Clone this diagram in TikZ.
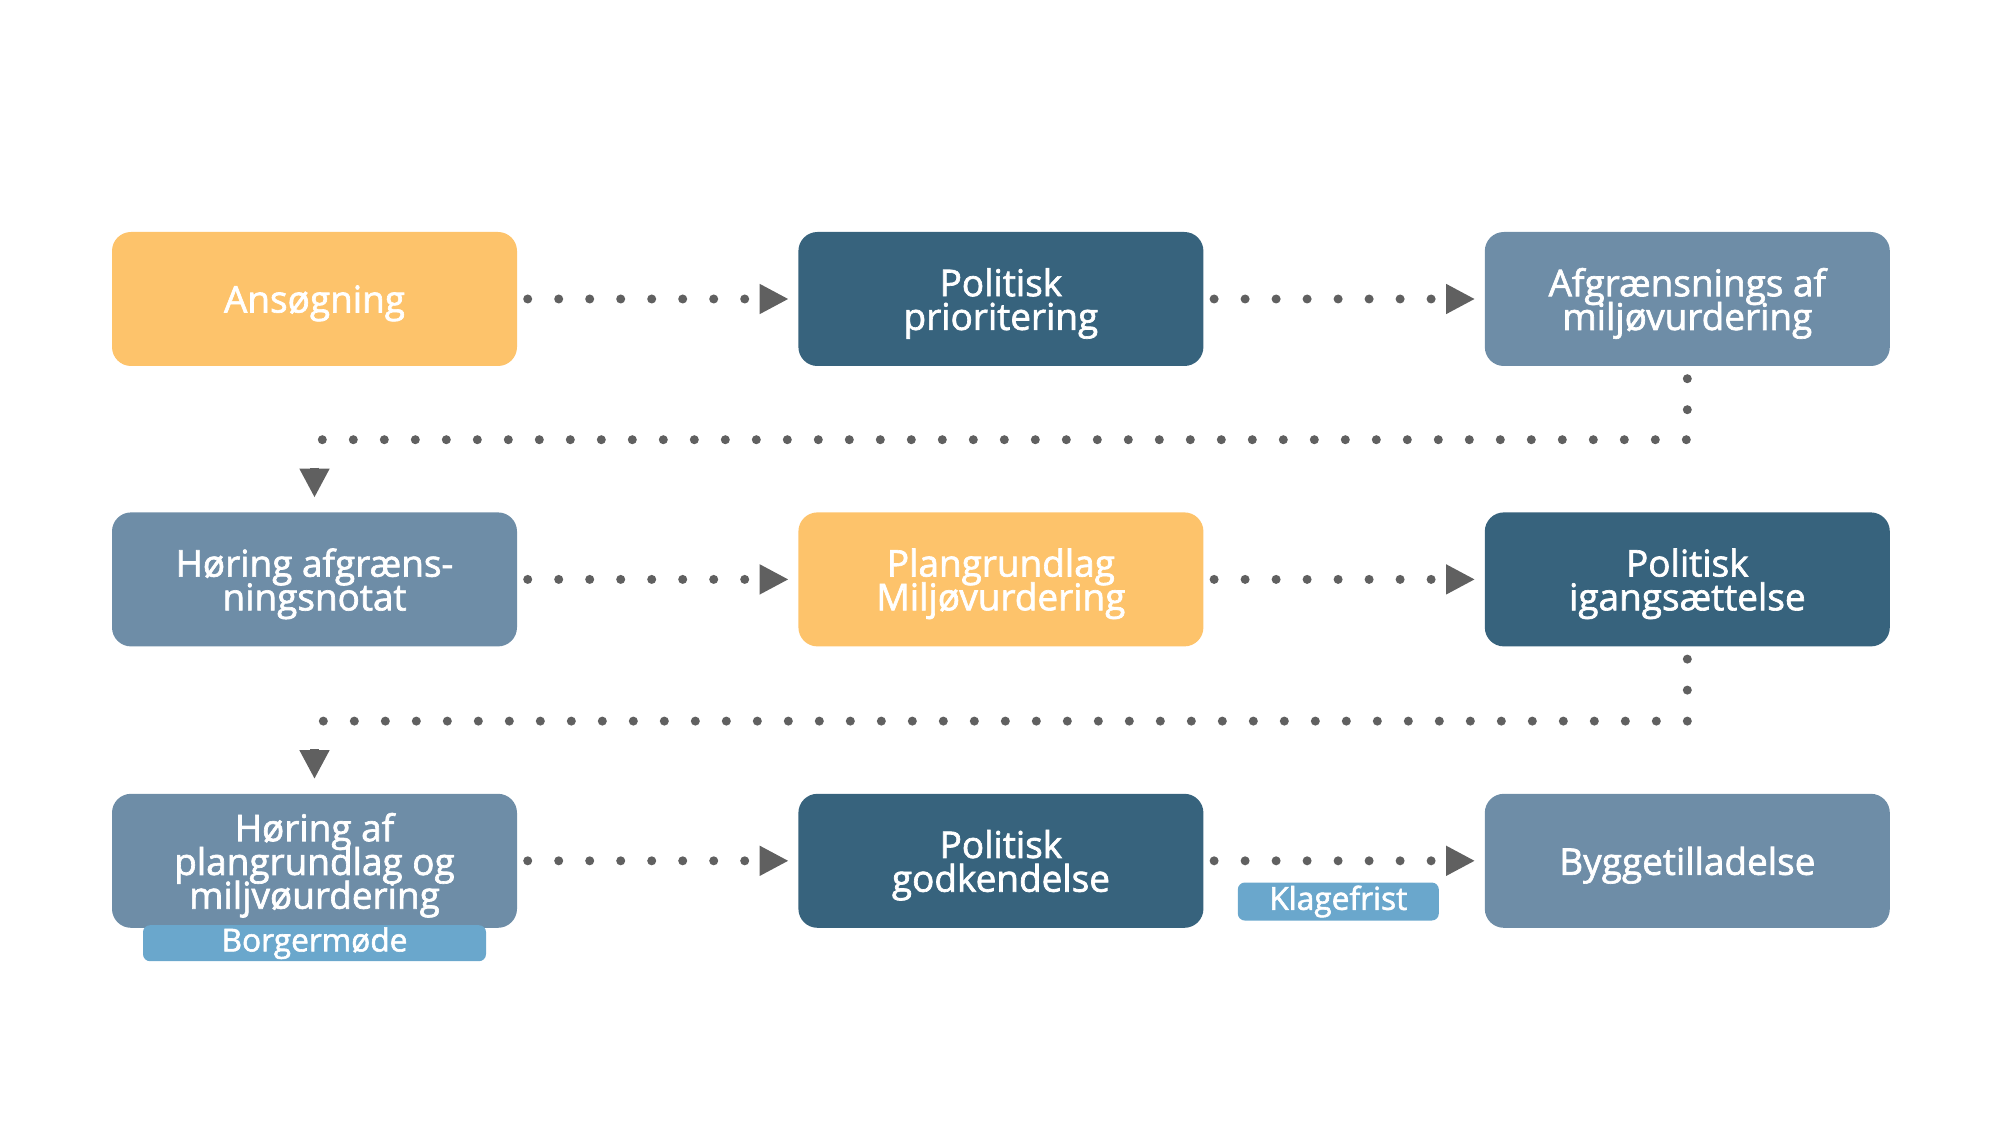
\documentclass[tikz,border=0pt]{standalone}
\usepackage{fontspec}
\setmainfont{Open Sans}
\newfontfamily\planfont{Open Sans}[FakeBold=1.8]
\newcommand\planboxfont{\planfont\fontsize{10.5}{9.6}\selectfont\lineskiplimit=-10pt\relax}
\usepackage{tikz}
\usetikzlibrary{arrows.meta}
\usetikzlibrary{positioning}
\definecolor{planorange}{HTML}{FDC36B}
\definecolor{plandark}{HTML}{37637D}
\definecolor{plangrey}{HTML}{6E8DA7}
\definecolor{planlight}{HTML}{6AA7CC}
\definecolor{dotgrey}{HTML}{606060}
\tikzstyle{stepbox} = [
    rectangle, rounded corners=0.19cm, minimum width=4.05cm, minimum height=1.34cm,
    inner sep=2pt, text depth=0pt, align=center, text=white, font=\planboxfont]
\tikzstyle{tag} = [
    rectangle, rounded corners=0.07cm, fill=planlight, text=white, inner sep=0pt,
    font=\planfont\fontsize{9}{9}\selectfont]
\tikzstyle{flow} = [dotgrey, line width=0.09cm, line cap=round, dash pattern=on 0pt off 0.31cm]
\tikzstyle{arrow} = [flow, -{Triangle[length=0.29cm,width=0.28cm]}, shorten <=0.1cm, shorten >=0.09cm]
\tikzstyle{tip} = [dotgrey, line width=0.09cm, -{Triangle[length=0.29cm,width=0.28cm]},
    shorten <=0.28cm, shorten >=0.14cm]

\begin{document}
\begin{tikzpicture}
\useasboundingbox (0,0) rectangle (20,11.25);

\node (a1) [stepbox, fill=planorange] at (3.145,8.26) {Ansøgning};
\node (a2) [stepbox, fill=plandark, right=2.8cm of a1] {Politisk\\prioritering};
\node (a3) [stepbox, fill=plangrey, right=2.8cm of a2] {Afgrænsnings af\\miljøvurdering};

\node (b1) [stepbox, fill=plangrey, below=1.45cm of a1] {Høring afgræns-\\ningsnotat};
\node (b2) [stepbox, fill=planorange, right=2.8cm of b1] {Plangrundlag\\Miljøvurdering};
\node (b3) [stepbox, fill=plandark, right=2.8cm of b2] {Politisk\\igangsættelse};

\node (c1) [stepbox, fill=plangrey, below=1.46cm of b1] {Høring af\\plangrundlag og\\miljvøurdering};
\node (c2) [stepbox, fill=plandark, right=2.8cm of c1] {Politisk\\godkendelse};
\node (c3) [stepbox, fill=plangrey, right=2.8cm of c2] {Byggetilladelse};

% labels under the boxes
\node (c1tag) [tag, minimum width=3.43cm, minimum height=0.36cm, below=-0.04cm of c1] {Borgermøde};
\node (c2tag) [tag, minimum width=2.01cm, minimum height=0.38cm,
    below right=0.21cm and 0.33cm of c2.east] {Klagefrist};

\coordinate [above=0.72cm of b1] (t1);
\coordinate [above=0.72cm of c1] (t2);

\draw [arrow] (a1) -- (a2);
\draw [arrow] (a2) -- (a3);
\draw [flow, shorten <=0.12cm] (a3) |- (t1);
\draw [tip] (t1) -- (b1);
\draw [arrow] (b1) -- (b2);
\draw [arrow] (b2) -- (b3);
\draw [flow, shorten <=0.12cm] (b3) |- (t2);
\draw [tip] (t2) -- (c1);
\draw [arrow] (c1) -- (c2);
\draw [arrow] (c2) -- (c3);
\end{tikzpicture}
\end{document}
